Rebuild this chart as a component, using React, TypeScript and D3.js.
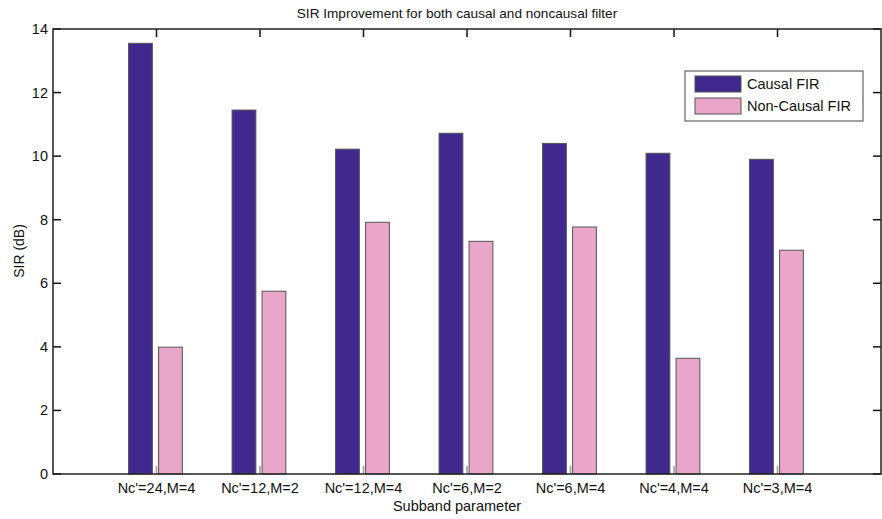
import React from "react";
import * as d3 from "d3";

const categories = [
  "Nc'=24,M=4",
  "Nc'=12,M=2",
  "Nc'=12,M=4",
  "Nc'=6,M=2",
  "Nc'=6,M=4",
  "Nc'=4,M=4",
  "Nc'=3,M=4",
];
const causalFIR = [13.55, 11.45, 10.22, 10.72, 10.4, 10.09, 9.9];
const nonCausalFIR = [3.99, 5.75, 7.92, 7.32, 7.77, 3.64, 7.04];
const yTicks = [0, 2, 4, 6, 8, 10, 12, 14];
const seriesNames = ["Causal FIR", "Non-Causal FIR"];

const colors = ["#40298e", "#eaa6c9"];
const font = "'Liberation Sans', Arial, sans-serif";

export default function App() {
  const W = 882;
  const H = 519;
  const m = { left: 53, right: 1, top: 29, bottom: 45 };

  // MATLAB style: xlim [0, n+1], groups at 1..n
  const x = d3
    .scaleLinear()
    .domain([0, categories.length + 1])
    .range([m.left, W - m.right]);
  const y = d3.scaleLinear().domain([0, 14]).range([H - m.bottom, m.top]);

  const x0 = x(0), x1 = x(categories.length + 1);
  const yTop = y(14), yBot = y(0);
  const series = [causalFIR, nonCausalFIR];
  // bar offsets (data units) relative to group centre
  const offsets = [
    [-0.27, -0.04],
    [0.02, 0.25],
  ];

  return (
    <svg
      width={W}
      height={H}
      style={{ position: "absolute", left: 0, top: 0, background: "#fff" }}
      fontFamily={font}
    >
      <text x={457} y={18} textAnchor="middle" fontSize={13.6} fill="#111">
        SIR Improvement for both causal and noncausal filter
      </text>

      {/* bars */}
      {series.map((vals, s) =>
        vals.map((v, i) => {
          const xa = x(i + 1 + offsets[s][0]);
          const xb = x(i + 1 + offsets[s][1]);
          return (
            <rect
              key={`${s}-${i}`}
              x={xa}
              y={y(v)}
              width={xb - xa}
              height={yBot - y(v)}
              fill={colors[s]}
              stroke="#555"
              strokeWidth={1}
            />
          );
        })
      )}

      {/* x ticks (inward, top and bottom) */}
      {categories.map((c, i) => (
        <g key={c}>
          <line x1={x(i + 1)} x2={x(i + 1)} y1={yTop} y2={yTop + 8} stroke="#111" strokeWidth={1.5} />
          <line x1={x(i + 1)} x2={x(i + 1)} y1={yBot} y2={yBot - 8} stroke="#999" strokeWidth={1.5} />
          <text x={x(i + 1)} y={493} textAnchor="middle" fontSize={14.5} fill="#111">
            {c}
          </text>
        </g>
      ))}

      {/* y ticks */}
      {yTicks.map((t) => (
        <g key={t}>
          <line x1={x0} x2={x0 + 8} y1={y(t)} y2={y(t)} stroke="#111" strokeWidth={1.5} />
          <line x1={x1} x2={x1 - 8} y1={y(t)} y2={y(t)} stroke="#111" strokeWidth={1.5} />
          <text x={48} y={y(t) + 5} textAnchor="end" fontSize={14.5} fill="#111">
            {t}
          </text>
        </g>
      ))}

      {/* axes box */}
      <rect x={x0} y={yTop} width={x1 - x0} height={yBot - yTop} fill="none" stroke="#222" strokeWidth={1.5} />

      <text
        transform={`translate(24,251) rotate(-90)`}
        textAnchor="middle"
        fontSize={14}
        fill="#111"
      >
        SIR (dB)
      </text>
      <text x={457} y={511} textAnchor="middle" fontSize={14.5} fill="#111">
        Subband parameter
      </text>

      {/* legend */}
      <g>
        <rect x={685} y={71} width={178} height={50} fill="#fff" stroke="#444" strokeWidth={1} />
        {seriesNames.map((n, s) => (
          <g key={n}>
            <rect x={695} y={76 + s * 22} width={46} height={16} fill={colors[s]} stroke="#555" />
            <text x={747} y={89 + s * 22} fontSize={14.5} fill="#111">
              {n}
            </text>
          </g>
        ))}
      </g>
    </svg>
  );
}
